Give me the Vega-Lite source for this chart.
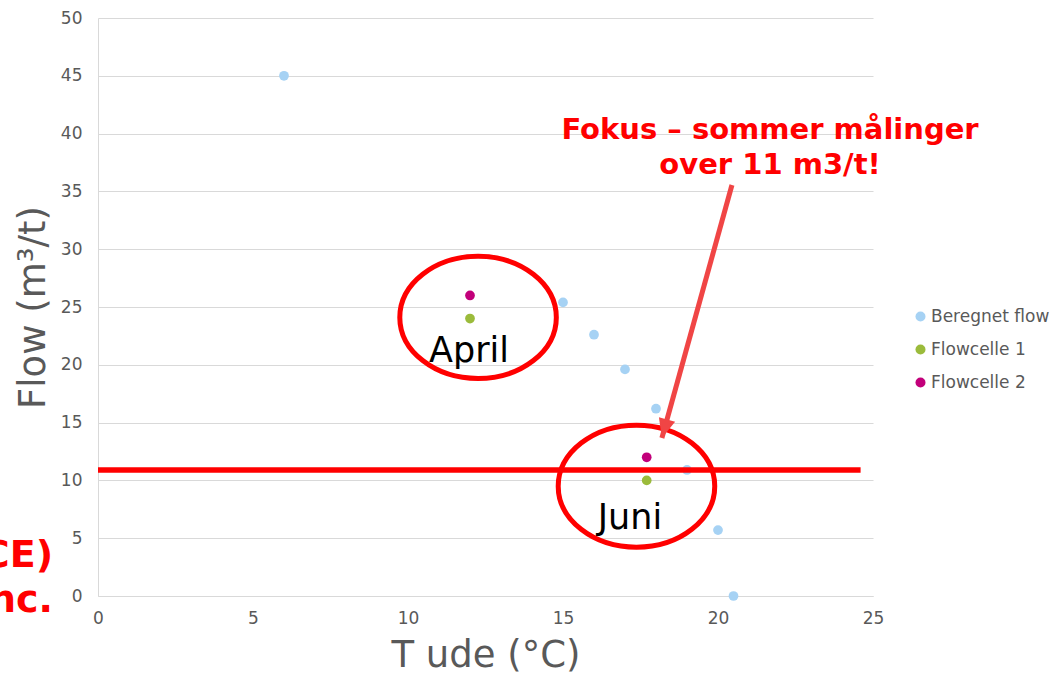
{
  "$schema": "https://vega.github.io/schema/vega-lite/v6.json",
  "autosize": "none",
  "width": 775,
  "height": 578,
  "padding": {"left": 98, "top": 18, "right": 180, "bottom": 79},
  "background": "white",
  "config": {
    "view": {"stroke": null},
    "font": "DejaVu Sans",
    "axis": {
      "labelFont": "DejaVu Sans",
      "titleFont": "DejaVu Sans",
      "labelColor": "#595959",
      "titleColor": "#595959",
      "labelFontSize": 17,
      "titleFontSize": 37,
      "titleFontWeight": "normal",
      "gridColor": "#d9d9d9",
      "domainColor": "#d9d9d9",
      "labelFlush": false,
      "ticks": false
    }
  },
  "datasets": {
    "pts": [
      {"series": "Beregnet flow", "x": 6, "y": 45},
      {"series": "Beregnet flow", "x": 15, "y": 25.4},
      {"series": "Beregnet flow", "x": 16, "y": 22.6},
      {"series": "Beregnet flow", "x": 17, "y": 19.6},
      {"series": "Beregnet flow", "x": 18, "y": 16.2},
      {"series": "Beregnet flow", "x": 19, "y": 10.9},
      {"series": "Beregnet flow", "x": 20, "y": 5.7},
      {"series": "Beregnet flow", "x": 20.5, "y": 0},
      {"series": "Flowcelle 1", "x": 12, "y": 24},
      {"series": "Flowcelle 1", "x": 17.7, "y": 10},
      {"series": "Flowcelle 2", "x": 12, "y": 26},
      {"series": "Flowcelle 2", "x": 17.7, "y": 12}
    ],
    "hline": [{"x": 0, "x2": 24.6, "y": 10.9}],
    "ellipses": [
      {"label": "April", "x": 12.26, "y": 24.1},
      {"label": "Juni", "x": 17.37, "y": 9.5}
    ],
    "labels": [
      {"text": "April", "x": 11.97, "y": 20.2},
      {"text": "Juni", "x": 17.16, "y": 5.8}
    ],
    "note": [
      {"text": "Fokus – sommer målinger", "x": 21.68, "y": 39.5},
      {"text": "over 11 m3/t!", "x": 21.68, "y": 36.5}
    ],
    "arrow": [{"x": 20.45, "y": 35.55, "x2": 18.19, "y2": 13.67}],
    "side": [
      {"text": "CE)", "x": -1.45, "y": 2.5},
      {"text": "nc.", "x": -1.45, "y": -1.4}
    ]
  },
  "layer": [
    {
      "data": {"name": "pts"},
      "mark": {"type": "point", "filled": true, "opacity": 1, "size": 95},
      "encoding": {
        "x": {
          "field": "x", "type": "quantitative",
          "scale": {"domain": [0, 25], "nice": false, "zero": false},
          "axis": {"values": [0, 5, 10, 15, 20, 25], "grid": false, "labelPadding": 14, "title": "T ude (°C)", "titleBaseline": "alphabetic", "titleY": 70}
        },
        "y": {
          "field": "y", "type": "quantitative",
          "scale": {"domain": [0, 50], "nice": false},
          "axis": {"values": [0, 5, 10, 15, 20, 25, 30, 35, 40, 45, 50], "grid": true, "labelPadding": 16, "title": "Flow (m³/t)", "titleBaseline": "alphabetic", "titleX": -54, "titleY": 289, "titleAlign": "center", "titleAngle": -90}
        },
        "color": {
          "field": "series", "type": "nominal",
          "scale": {"domain": ["Beregnet flow", "Flowcelle 1", "Flowcelle 2"], "range": ["#a6d2f4", "#9bbb3b", "#c2007a"]},
          "legend": {
            "title": null, "orient": "none", "legendX": 814, "legendY": 290,
            "padding": 0, "symbolType": "circle", "symbolSize": 100, "symbolOpacity": 1,
            "labelFont": "DejaVu Sans", "labelFontSize": 17, "labelColor": "#595959",
            "labelOffset": 2, "rowPadding": 15
          }
        }
      }
    },
    {
      "data": {"name": "hline"},
      "mark": {"type": "rule", "color": "#ff0000", "strokeWidth": 5.5},
      "encoding": {
        "x": {"field": "x", "type": "quantitative"},
        "x2": {"field": "x2"},
        "y": {"field": "y", "type": "quantitative"}
      }
    },
    {
      "data": {"name": "ellipses"},
      "mark": {
        "type": "point", "filled": false, "stroke": "#ff0000", "strokeWidth": 5, "opacity": 1,
        "size": 24500,
        "shape": "M -1 0 C -1 -0.43 -0.552 -0.78 0 -0.78 C 0.552 -0.78 1 -0.43 1 0 C 1 0.43 0.552 0.78 0 0.78 C -0.552 0.78 -1 0.43 -1 0 Z"
      },
      "encoding": {
        "x": {"field": "x", "type": "quantitative"},
        "y": {"field": "y", "type": "quantitative"}
      }
    },
    {
      "data": {"name": "labels"},
      "mark": {"type": "text", "font": "DejaVu Sans", "fontSize": 35, "color": "#000000", "align": "center", "baseline": "alphabetic"},
      "encoding": {
        "x": {"field": "x", "type": "quantitative"},
        "y": {"field": "y", "type": "quantitative"},
        "text": {"field": "text"}
      }
    },
    {
      "data": {"name": "note"},
      "mark": {"type": "text", "font": "DejaVu Sans", "fontSize": 29, "fontWeight": "bold", "color": "#ff0000", "align": "center", "baseline": "alphabetic"},
      "encoding": {
        "x": {"field": "x", "type": "quantitative"},
        "y": {"field": "y", "type": "quantitative"},
        "text": {"field": "text"}
      }
    },
    {
      "data": {"name": "arrow"},
      "mark": {"type": "rule", "color": "#f04545", "strokeWidth": 5},
      "encoding": {
        "x": {"field": "x", "type": "quantitative"},
        "y": {"field": "y", "type": "quantitative"},
        "x2": {"field": "x2"},
        "y2": {"field": "y2"}
      }
    },
    {
      "data": {"name": "arrow"},
      "mark": {
        "type": "point", "filled": true, "color": "#f04545", "opacity": 1, "size": 576, "angle": 15.5,
        "shape": "M 0 0 L -0.7 -1.6 L 0.7 -1.6 Z"
      },
      "encoding": {
        "x": {"field": "x2", "type": "quantitative"},
        "y": {"field": "y2", "type": "quantitative"}
      }
    },
    {
      "data": {"name": "side"},
      "mark": {"type": "text", "font": "DejaVu Sans", "fontSize": 38, "fontWeight": "bold", "color": "#ff0000", "align": "right", "baseline": "alphabetic"},
      "encoding": {
        "x": {"field": "x", "type": "quantitative"},
        "y": {"field": "y", "type": "quantitative"},
        "text": {"field": "text"}
      }
    }
  ]
}
